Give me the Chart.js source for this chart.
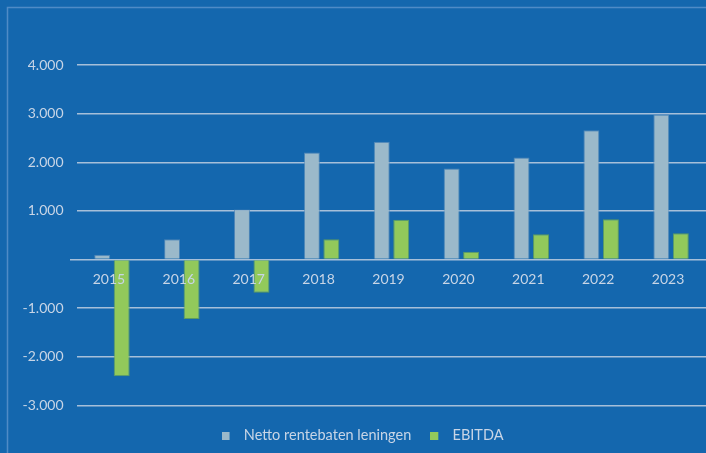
<!DOCTYPE html>
<html><head><meta charset="utf-8">
<script src="https://cdn.jsdelivr.net/npm/chart.js@4.4.1/dist/chart.umd.min.js"></script>
<style>html,body{margin:0;padding:0;background:#1467ae;overflow:hidden}</style>
</head><body>
<canvas id="c" width="706" height="453"></canvas>
<script>
const categories = ['2015','2016','2017','2018','2019','2020','2021','2022','2023'];
const nettoRentebaten = [100, 420, 1030, 2200, 2420, 1870, 2100, 2660, 2980];
const ebitda = [-2400, -1220, -680, 420, 820, 160, 520, 830, 540];
const yTicks = [-3000, -2000, -1000, 0, 1000, 2000, 3000, 4000];
const seriesNames = ['Netto rentebaten leningen', 'EBITDA'];

const BG = '#1467ae';
const TEXT = '#c8d5e6';
const GRID = '#a6bfd9';
const FRAME = '#4f8bc6';
const GRAY = '#9bb9ca';
const GREEN = '#92c95b';
const FONT = {family: 'Lato', size: 14};
const LEGEND_FONT = {family: 'Lato', size: 14.5};

function legendSwatch(color) {
  const c = document.createElement('canvas');
  c.width = 15; c.height = 8;
  const g = c.getContext('2d');
  g.fillStyle = color;
  g.fillRect(0, 0, 8, 8);
  return c;
}

const framePlugin = {
  id: 'frame',
  beforeDraw(chart) {
    const ctx = chart.ctx;
    ctx.save();
    ctx.fillStyle = BG;
    ctx.fillRect(0, 0, chart.width, chart.height);
    ctx.strokeStyle = FRAME;
    ctx.lineWidth = 1.5;
    ctx.beginPath();
    ctx.moveTo(7.5, chart.height);
    ctx.lineTo(7.5, 7.5);
    ctx.lineTo(chart.width, 7.5);
    ctx.stroke();
    ctx.restore();
  }
};

function fmt(v) {
  if (v === 0) return '';
  const s = Math.abs(v).toString().replace(/\B(?=(\d{3})+(?!\d))/g, '.');
  return (v < 0 ? '-' : '') + s;
}

new Chart(document.getElementById('c'), {
  type: 'bar',
  data: {
    labels: categories,
    datasets: [
      {label: seriesNames[0], data: nettoRentebaten, backgroundColor: GRAY, borderColor: 'rgba(90,140,185,0.8)', borderWidth: 1,
       categoryPercentage: 0.558, barPercentage: 0.82},
      {label: seriesNames[1], data: ebitda, backgroundColor: GREEN, borderColor: 'rgba(100,160,90,0.9)', borderWidth: 1,
       categoryPercentage: 0.558, barPercentage: 0.82}
    ]
  },
  options: {
    responsive: false,
    animation: false,
    layout: {padding: {top: 65, left: 19, right: 0, bottom: 0}},
    scales: {
      x: {
        position: {y: 0},
        grid: {display: false, drawTicks: false, tickLength: 0},
        border: {display: false},
        ticks: {z: 1, color: TEXT, font: FONT, padding: 12, labelOffset: -3, maxRotation: 0, autoSkip: false},
        afterFit(s) { s.height = 0; }
      },
      y: {
        min: -3000, max: 4000,
        afterBuildTicks(s) { s.ticks = yTicks.map(v => ({value: v})); },
        afterFit(s) { s.width = 58; },
        grid: {color: GRID, lineWidth: 1.5, drawTicks: true, tickLength: 7,
               tickColor: c => (c.tick && c.tick.value === 0) ? GRID : 'rgba(0,0,0,0)', tickWidth: 1.5},
        border: {display: false},
        ticks: {color: TEXT, font: FONT, padding: 6.5, callback: v => fmt(v)}
      }
    },
    plugins: {
      legend: {
        position: 'bottom',
        title: {display: true, text: '', font: {size: 4, lineHeight: 1}, padding: 0},
        labels: {
          color: TEXT, font: LEGEND_FONT, padding: 19, usePointStyle: true, pointStyleWidth: 15,
          generateLabels(chart) {
            const items = Chart.defaults.plugins.legend.labels.generateLabels(chart);
            items.forEach((it, i) => { it.pointStyle = legendSwatch(i === 0 ? GRAY : GREEN); });
            return items;
          }
        }
      },
      tooltip: {enabled: false}
    }
  },
  plugins: [framePlugin]
});
</script>
</body></html>
